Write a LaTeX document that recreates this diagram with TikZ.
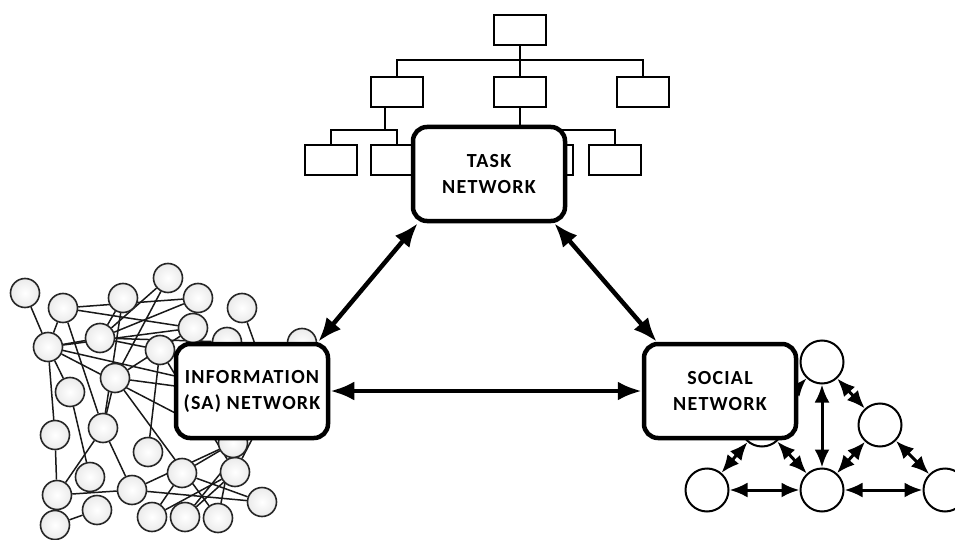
\documentclass[tikz,border=0pt]{standalone}
\usepackage{fontspec}
\newfontfamily\boxfont[LetterSpace=6]{Carlito}
\usetikzlibrary{arrows.meta,backgrounds}

\begin{document}
\begin{tikzpicture}[x=1pt,y=-1pt,
    netbox/.style={draw, line width=4.5pt, rounded corners=14pt, fill=white,
        minimum width=152pt, minimum height=94pt, align=center,
        font=\boxfont\bfseries\fontsize{20}{26}\selectfont},
    taskbox/.style={draw, line width=2pt, fill=white, minimum width=52pt,
        minimum height=30pt, inner sep=0pt},
    infonode/.style={circle, draw=black!85, line width=1.6pt, inner color=white,
        outer color=black!8, minimum size=29pt, inner sep=0pt},
    socnode/.style={circle, draw, line width=2pt, fill=white,
        minimum size=43pt, inner sep=0pt},
    biglink/.style={line width=4.5pt,
        {Latex[length=24pt,width=19pt]}-{Latex[length=24pt,width=19pt]}},
    soclink/.style={line width=3pt,
        {Latex[length=18pt,width=15pt]}-{Latex[length=18pt,width=15pt]}},
    infolink/.style={line width=1.5pt, black!90}]

    \useasboundingbox (0,0) rectangle (955,540);

    % task tree
    \node[taskbox] (t0) at (520,30) {};
    \node[taskbox] (t1) at (397,92) {};
    \node[taskbox] (t2) at (520,92) {};
    \node[taskbox] (t3) at (643,92) {};
    \node[taskbox] (t4) at (331,160) {};
    \node[taskbox] (t5) at (397,160) {};
    \node[taskbox] (t6) at (547,160) {};
    \node[taskbox] (t7) at (615,160) {};

    \draw[line width=2pt] (t0.south) -- ++(0,14) -| (t1.north);
    \draw[line width=2pt] (t0.south) -- ++(0,14) -| (t3.north);
    \draw[line width=2pt] (t0.south) -- (t2.north);
    \draw[line width=2pt] ([xshift=-12pt]t1.south) -- ++(0,22) -| (t4.north);
    \draw[line width=2pt] ([xshift=-12pt]t1.south) -- ++(0,22) -| (t5.north);
    \draw[line width=2pt] (t2.south) -- ++(0,22) -| (t6.north);
    \draw[line width=2pt] (t2.south) -- ++(0,22) -| (t7.north);

    % information network
    \foreach \n/\x/\y in {n1/25/293, n2/63/308, n3/123/298, n4/168/278,
        n5/198/298, n6/242/308, n7/48/347, n8/100/338, n9/160/350,
        n10/193/328, n11/115/378, n12/70/392, n13/55/435, n14/103/428,
        n15/148/452, n16/90/477, n17/182/473, n18/235/472, n19/57/495,
        n20/132/490, n21/262/502, n22/97/510, n23/55/525, n24/152/517,
        n25/185/517, n26/218/518, h1/227/342, h2/302/343, h3/233/443}
        \node[infonode] (\n) at (\x,\y) {};
    \coordinate (h4) at (280,400);
    \coordinate (h5) at (265,372);

    \begin{scope}[on background layer]
        \foreach \a/\b in {n1/n7, n2/n7, n2/n14, n2/n10, n3/n8, n3/n14,
            n4/n11, n4/n8, n5/n8, n5/n2, n6/h5, n7/n8, n7/n10, n7/h4,
            n7/n13, n7/h3, n8/n9, n8/h1, n10/n11, n11/n14, n11/h4,
            n12/n16, n12/n7, n13/n19, n14/n19, n14/n20, n19/n20, n20/h3,
            n20/n21, n23/n22, n15/n9, n17/n24, n17/h3, n18/n25, n18/h2,
            n21/n17, n26/h3, n24/n18, n25/h4, n9/n18, n11/n26}
            \draw[infolink] (\a) -- (\b);
    \end{scope}

    % social network
    \node[socnode] (s1) at (822,362) {};
    \node[socnode] (s2) at (880,425) {};
    \node[socnode] (s3) at (707,490) {};
    \node[socnode] (s4) at (822,490) {};
    \node[socnode] (s5) at (945,490) {};
    \node[socnode] (s6) at (762,425) {};

    \begin{scope}[on background layer]
        \draw[soclink] (s1) -- (s6);
        \draw[soclink] (s6) -- (s3);
        \draw[soclink] (s6) -- (s4);
        \draw[soclink] (s1) -- (s2);
        \draw[soclink] (s2) -- (s4);
        \draw[soclink] (s2) -- (s5);
        \draw[soclink] (s1) -- (s4);
        \draw[soclink] (s3) -- (s4);
        \draw[soclink] (s4) -- (s5);
    \end{scope}

    % the three networks
    \node[netbox] (task) at (489,174) {TASK\\NETWORK};
    \node[netbox] (info) at (252,391) {INFORMATION\\(SA) NETWORK};
    \node[netbox] (social) at (720,391) {SOCIAL\\NETWORK};

    \draw[biglink] ([xshift=7pt]task.south west) -- ([xshift=-12pt]info.north east);
    \draw[biglink] ([xshift=-13pt]task.south east) -- ([xshift=15pt]social.north west);
    \draw[biglink] (info.east) -- (social.west);

\end{tikzpicture}
\end{document}
